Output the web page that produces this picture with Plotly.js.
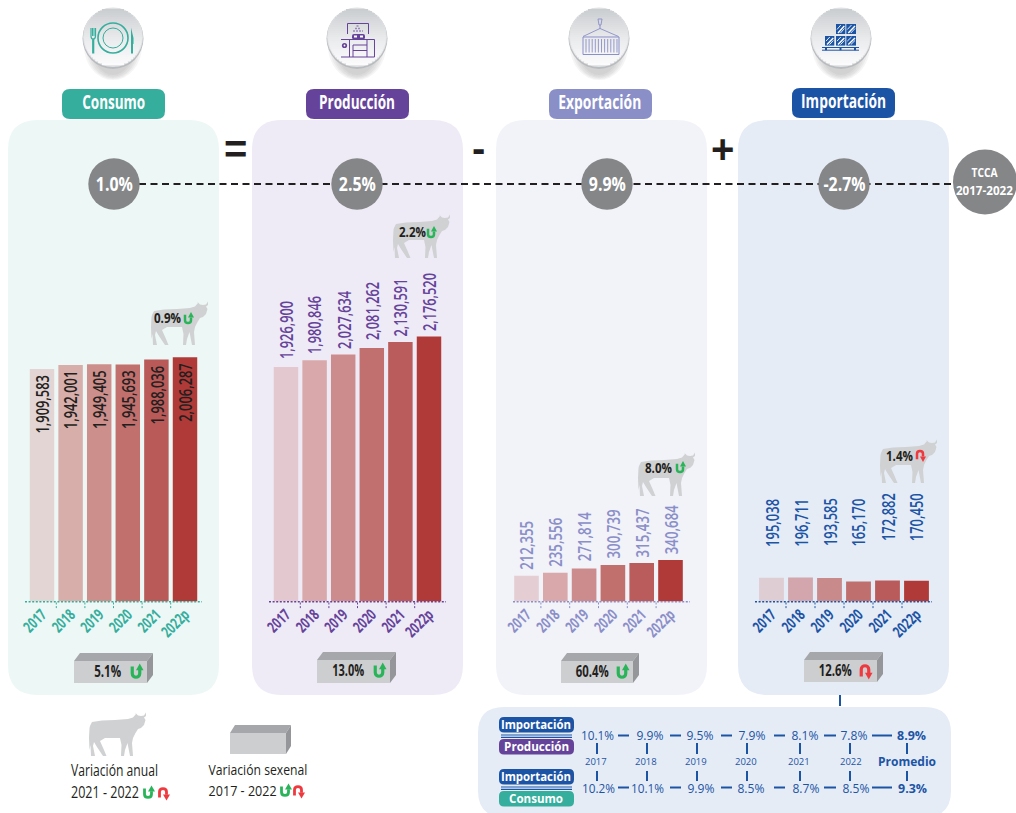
<!DOCTYPE html>
<html><head><meta charset="utf-8">
<script src="https://cdn.plot.ly/plotly-3.0.1.min.js"></script>
<style>html,body{margin:0;padding:0;background:#fff}#c{width:1016px;height:813px}</style>
</head><body><div id="c"></div>
<script>
// ---------- data ----------
const years = ['2017','2018','2019','2020','2021','2022p'];
const consumo = [1909583,1942001,1949405,1945693,1988036,2006287];
const produccion = [1926900,1980846,2027634,2081262,2130591,2176520];
const exportacion = [212355,235556,271814,300739,315437,340684];
const importacion = [195038,196711,193585,165170,172882,170450];
const barsConsumo = ['#e3d5d3','#d7aeaa','#cd8f8b','#c2706d','#ba5a58','#b03a37'];
const barsProduccion = ['#e4c8cf','#d8a8aa','#cc8b8c','#c2706f','#ba5c5b','#b03a37'];
const barsExportacion = ['#e5ced3','#d8a8ab','#cc8b8c','#c2706d','#ba5c5b','#b03a37'];
const barsImportacion = ['#decdd3','#d2a6ac','#c88a8b','#bf6f6d','#b95b5b','#b03a37'];
const tcca = ['1.0%','2.5%','9.9%','-2.7%'];
const anual = ['0.9%','2.2%','8.0%','1.4%'];
const sexenal = ['5.1%','13.0%','60.4%','12.6%'];
const ratioYears = ['2017','2018','2019','2020','2021','2022','Promedio'];
const impProd = ['10.1%','9.9%','9.5%','7.9%','8.1%','7.8%','8.9%'];
const impCons = ['10.2%','10.1%','9.9%','8.5%','8.7%','8.5%','9.3%'];
// ---------- style ----------
const W=1016,H=813,BASE=601.5,PERPX=8213;
const TEAL='#35ae9d',PURP='#66439a',LILA='#8a8fc8',BLUE='#1c54a5',GREY='#858688',GREEN='#2ab45a',RED='#ee3a3f',COW='#d0d1d2',DARK='#231f20';
const NARROW='"Open Sans","Noto Sans",sans-serif', HUM='"Open Sans","Noto Sans",sans-serif';
const fx=x=>(x/W).toFixed(6), fy=y=>(1-y/H).toFixed(6);
const pt=(x,y)=>fx(x)+' '+fy(y);
const shapes=[],anns=[],widths={};
const poly=(pts,fill,layer)=>shapes.push({type:'path',xref:'paper',yref:'paper',layer:layer||'above',path:'M '+pts.map(p=>pt(p[0],p[1])).join(' L ')+' Z',fillcolor:fill,line:{width:0}});
const stroke=(d,color,w,dash,layer)=>shapes.push({type:'path',xref:'paper',yref:'paper',layer:layer||'above',path:d,fillcolor:'rgba(0,0,0,0)',line:{color:color,width:w,dash:dash||'solid'}});
const seg=(x0,y0,x1,y1,color,w,dash)=>stroke('M '+pt(x0,y0)+' L '+pt(x1,y1),color,w,dash);
const ell=(cx,cy,rx,ry,fill,op,lc,lw)=>shapes.push({type:'circle',xref:'paper',yref:'paper',layer:'above',x0:fx(cx-rx),x1:fx(cx+rx),y0:fy(cy-ry),y1:fy(cy+ry),fillcolor:fill,opacity:op==null?1:op,line:{width:lw||0,color:lc||fill}});
const rr=(x0,y0,x1,y1,r,fill,layer)=>shapes.push({type:'path',xref:'paper',yref:'paper',layer:layer||'above',
 path:`M ${pt(x0+r,y0)} L ${pt(x1-r,y0)} Q ${pt(x1,y0)} ${pt(x1,y0+r)} L ${pt(x1,y1-r)} Q ${pt(x1,y1)} ${pt(x1-r,y1)} L ${pt(x0+r,y1)} Q ${pt(x0,y1)} ${pt(x0,y1-r)} L ${pt(x0,y0+r)} Q ${pt(x0,y0)} ${pt(x0+r,y0)} Z`,fillcolor:fill,line:{width:0}});
const T=(x,y,text,size,color,o)=>{o=o||{};anns.push({xref:'paper',yref:'paper',x:+fx(x),y:+fy(y),text:text,showarrow:false,xanchor:'center',yanchor:'middle',borderpad:0,align:'center',
 font:{family:o.family||NARROW,size:size,color:color,weight:o.bold?700:(o.weight||400)}});
 if(o.w) widths[anns.length-1]=o.w;};
// U-turn arrows
function uturn(x,y,w,h,up,lw){
 const l=x-w/2,r=x+w/2,s=up?1:-1,c=up?GREEN:RED;
 const t=y-s*h/2+s*h*0.08,b=y+s*h/2;
 stroke(`M ${pt(l,t)} L ${pt(l,y+s*h*0.12)} C ${pt(l,b)} ${pt(r,b)} ${pt(r,y+s*h*0.12)} L ${pt(r,y-s*h*0.15)}`,c,lw);
 poly([[r,y-s*h/2-s*2],[r-w*0.5,y-s*h*0.14],[r+w*0.5,y-s*h*0.14]],c);
}
// cow silhouette, outline given in the legend cow's pixels
const cowPts=[[90,726],[92,722],[102,720.5],[115,720],[128,719],[133,717.5],[136,714],[135,712.5],[138,715.5],[141,716],[144,715.5],[146,712.5],[146,716],[144,717.5],[145.5,720],[144,725],[141,728],[138,729],[135.5,733],[133,738],[132,743],[133,756],[130,756],[127.5,743],[125,750],[124,756],[121,756],[121.5,745],[120,738],[112,738],[105,738],[100,741],[104,750],[106.5,756],[103,756],[97,747],[94,742],[93,746],[95,756],[91,756],[90.5,745],[89.5,750],[89,738],[89.5,728]];
const cow=(dx,dy)=>poly(cowPts.map(p=>[p[0]+dx,p[1]+dy]),COW);
function block(x0,y0,x1,y1,d){
 poly([[x0,y0],[x0+d,y0-8],[x1+d,y0-8],[x1,y0]],'#a5a7aa');
 poly([[x1,y0],[x1+d,y0-8],[x1+d,y1-8],[x1,y1]],'#94969a');
 poly([[x0,y0],[x1,y0],[x1,y1],[x0,y1]],'#cdced0');
}
function mix(a,b,t){const p=s=>[1,3,5].map(i=>parseInt(s.substr(i,2),16));const A=p(a),B=p(b);return 'rgb('+A.map((v,i)=>Math.round(v+(B[i]-v)*t)).join(',')+')';}
function badge(cx,cy){
 [[46,34,29],[46,33,27],[46,32,25],[46,30.5,23],[46,29,21]].forEach(s=>ell(cx,s[0],s[2],s[1],'#6f7278',0.07));
 ell(cx,cy+0.4,30.5,30.5,'#b9bcbf');
 ell(cx,cy-0.8,30,29.8,'#dfe1e3');
 for(let y=-28;y<28;y+=2){
  const h=Math.sqrt(Math.max(0,29.3*29.3-(y+1)*(y+1)))-0.4;
  const t=(y+28)/56, col=t<0.5?mix('#cbced1','#e9eaec',t*2):mix('#e9eaec','#fcfcfd',(t-0.5)*2);
  poly([[cx-h,cy+y-1],[cx+h,cy+y-1],[cx+h,cy+y+1.2],[cx-h,cy+y+1.2]],col);
 }
}
// ---------- panels (below everything) ----------
rr(8,120,219,695,30,'#edf7f5','below');
rr(252,120,463,695,30,'#eeebf6','below');
rr(496,120,707,695,30,'#f2f2f9','below');
rr(738,120,949,695,30,'#e5ecf6','below');
rr(478,707,951,817,26,'#e5ecf6','below');
// ---------- headers ----------
[['Consumo',62,165,TEAL,89,63],['Producción',306,409,PURP,89,76],['Exportación',549,652,LILA,89,83],['Importación',792,895,BLUE,88,85]].forEach(h=>{
 rr(h[1],h[4],h[2],h[4]+30,8,h[3]);
 T((h[1]+h[2])/2,h[4]+13,h[0],20,'#fff',{bold:true,w:h[5]});
});
// ---------- icons ----------
badge(113,38);badge(357,38);badge(599,38);badge(841,38);
// plate
ell(113,38,15,15,'rgba(0,0,0,0)',1,TEAL,1.6);
ell(113,38,10,10,'rgba(0,0,0,0)',1,TEAL,1);
stroke(`M ${pt(91,28)} L ${pt(91,36)} Q ${pt(91,39)} ${pt(93,39)} Q ${pt(95.5,39)} ${pt(95.5,36)} L ${pt(95.5,28)}`,TEAL,1.2);
seg(92.5,28,92.5,36,TEAL,1);seg(94,28,94,36,TEAL,1);
seg(93.2,39,93.2,53.5,TEAL,2.2);
poly([[131,27.5],[133.5,38],[133.5,44],[133,44],[133,53.5],[131,53.5]],TEAL);
// production
const C=PURP;
stroke(`M ${pt(347.5,34)} L ${pt(347.5,23.5)} L ${pt(368.5,23.5)} L ${pt(368.5,34)}`,C,1);
seg(341,39.5,374.5,39.5,C,1.2);
seg(341,57,374.5,57,C,1.2);
seg(349.5,39.5,349.5,57,C,1);seg(374.5,39.5,374.5,57,C,1);seg(367,39.5,367,57,C,1);
seg(353,45,367,45,C,1);seg(353,50.5,367,50.5,C,1);seg(353,45,353,57,C,1);
ell(344.5,45.5,2.6,2.6,C);
ell(344.5,45.5,0.9,0.9,'#ffffff');
[[358,26,1.5],[358,28.5,3],[358,31,5]].forEach(a=>seg(a[0]-a[2],a[1],a[0]+a[2],a[1],'#9a85bf',1.4,'2px,1px'));
rr(352,34,365,39.5,2,C);
poly([[354,35.5],[357,35.5],[357,37.5],[354,37.5]],'#fff');poly([[360,35.5],[363,35.5],[363,37.5],[360,37.5]],'#fff');
// container
const L=LILA;
stroke(`M ${pt(598,19)} L ${pt(602,19)} L ${pt(601,25)} L ${pt(599,25)} Z`,L,0.9);
seg(600,25,600,29,L,1);
stroke(`M ${pt(583,36.5)} L ${pt(600,28.5)} L ${pt(618.5,36.5)}`,L,0.9);
stroke(`M ${pt(583,37)} L ${pt(619,37)} L ${pt(619,54.5)} L ${pt(583,54.5)} Z`,L,1);
for(let x=586;x<618;x+=3.1) seg(x,39,x,52.5,L,0.9);
// pallet
[[836,24,9.3,10],[846.3,24,9.7,10],[825,36,9.3,9.6],[836,36,9.3,9.6],[846.3,36,9.7,9.6]].forEach(b=>{
 poly([[b[0],b[1]],[b[0]+b[2],b[1]],[b[0]+b[2],b[1]+b[3]],[b[0],b[1]+b[3]]],BLUE);
 seg(b[0]+2,b[1]+b[3]-1,b[0]+b[2]-1,b[1]+2,'#fff',1.4);
 seg(b[0]+1,b[1]+b[3]-4.5,b[0]+b[2]-4.5,b[1]+1,'#fff',0.9);
 seg(b[0]+4.5,b[1]+b[3]-1,b[0]+b[2]-1,b[1]+4.5,'#fff',0.9);
});
seg(822,47.5,859,47.5,BLUE,1);seg(822,50.2,859,50.2,BLUE,1);
[826,840.5,855].forEach(x=>seg(x,47.5,x,50.2,BLUE,2));
// ---------- operators ----------
T(235.5,149,'=',40,DARK,{bold:true,family:'"Liberation Sans",sans-serif'});
T(478.5,148,'-',40,DARK,{bold:true,family:'"Liberation Sans",sans-serif'});
T(722,149,'+',40,DARK,{bold:true,family:'"Liberation Sans",sans-serif'});
// ---------- TCCA line ----------
seg(139,184,956,184,DARK,2,'7px,4.5px');
[114,357,607,844].forEach((x,i)=>{ell(x,184,25.7,25.7,GREY);T(x,183.5,tcca[i],20,'#fff',{bold:true,w:i===3?42:37});});
ell(985,182,32,32.5,GREY);
T(985,172.5,'TCCA',13,'#fff',{bold:true,w:26});T(985,191,'2017-2022',12,'#fff',{bold:true,w:57});
// ---------- cows ----------
[[62,-411,168,317,188,319,true],[304,-498,412,231,431,233,true],[549,-260,658,467,680,468,true],[791,-273,899,455,920,455,false]].forEach((c,i)=>{
 cow(c[0],c[1]);
 T(c[2],c[3],anual[i],15,DARK,{bold:true,w:27});
 uturn(c[4],c[5],6,10,c[6],2.5);
});
// ---------- blocks ----------
[[74,147,108,136,661,683,true,27],[317,390,348,379,660,683,true,32],[561,633,592,622,661,683,true,33],[804,877,835,865,660,682,false,33]].forEach((b,i)=>{
 block(b[0],b[4],b[1],b[5],6);
 T(b[2],b[4]+10.5,sexenal[i],16,DARK,{bold:true,w:b[7]});
 uturn(b[3],b[4]+11,7.5,13,b[6],3.2);
});
// ---------- legend ----------
cow(0,0);
block(230,733,286,754,5);
T(114.5,770.5,'Variación anual',15.5,DARK,{w:87});
T(105,792,'2021 - 2022',15.5,DARK,{w:68});
T(257.5,769,'Variación sexenal',15,DARK,{w:99});
T(242,790,'2017 - 2022',15,DARK,{w:68});
uturn(148,793,7,11,true,2.8);uturn(163,793,7,11,false,2.8);
uturn(285,791,7,11,true,2.8);uturn(298,791,7,11,false,2.8);
// ---------- bottom table ----------
seg(840,695,840,706,BLUE,2);
[[499,574,717,'Importación',BLUE,70],[499,574,739,'Producción',PURP,65],[499,574,769,'Importación',BLUE,70],[499,574,791,'Consumo',TEAL,54]].forEach(p=>{
 rr(p[0],p[2],p[1],p[2]+15.5,5,p[4]);T((p[0]+p[1])/2,p[2]+7.5,p[3],12,'#fff',{bold:true,family:HUM,w:p[5]});
});
seg(501,735,572,735,BLUE,1.2);seg(501,737.3,572,737.3,BLUE,1.2);
seg(501,787,572,787,BLUE,1.2);seg(501,789.3,572,789.3,BLUE,1.2);
const xRow1=[597.7,650,700,752,805,854,911],xRow2=[598,648,701,751,806,856,912],xYear=[596,646,696,746,799,851,907],xV=[597,647,697,747,800,850,907];
const dash=[[618,629],[670,681],[721,732],[774,785],[824,836],[872,892]];
impProd.forEach((v,i)=>T(xRow1[i],736,v,12.5,BLUE,{family:HUM,bold:i===6,w:i===0?33:(i===6?29:27)}));
impCons.forEach((v,i)=>T(xRow2[i],788,v,12.5,BLUE,{family:HUM,bold:i===6,w:i<2?33:(i===6?29:27)}));
ratioYears.forEach((v,i)=>T(xYear[i],762,v,i===6?12:9.5,BLUE,{family:HUM,bold:i===6}));
dash.forEach(d=>{seg(d[0],735.5,d[1],735.5,BLUE,2);seg(d[0],787.5,d[1],787.5,BLUE,2);});
xV.forEach(x=>{seg(x,743,x,754,BLUE,2);seg(x,771,x,781,BLUE,2);});
// ---------- charts ----------
const panels=[
 {ax:'x',vals:consumo,bars:barsConsumo,col:TEAL,txt:DARK,x0:27.7,x1:199.3,bl:[25,202],inside:true,len:58.5},
 {ax:'x2',vals:produccion,bars:barsProduccion,col:PURP,txt:PURP,x0:271.7,x1:443.3,bl:[269,446],gaps:[8,6,6,8,6,5.5],len:58},
 {ax:'x3',vals:exportacion,bars:barsExportacion,col:LILA,txt:LILA,x0:512.1,x1:684.9,bl:[513,690],gaps:[6,6,7,7,6,6],len:49},
 {ax:'x4',vals:importacion,bars:barsImportacion,col:BLUE,txt:BLUE,x0:757,x1:931,bl:[755,932],gaps:[31,31,32,35,39.5,39.7],len:48}
];
const data=[];
const layout={width:W,height:H,margin:{l:0,r:0,t:0,b:0,pad:0},paper_bgcolor:'#fff',plot_bgcolor:'rgba(0,0,0,0)',showlegend:false,hovermode:false,bargap:0.145,
 yaxis:{domain:[(H-BASE)/H,1],range:[0,BASE*PERPX],visible:false,fixedrange:true},shapes:shapes,annotations:anns};
panels.forEach(p=>{
 data.push({type:'bar',x:years,y:p.vals,xaxis:p.ax,yaxis:'y',marker:{color:p.bars,line:{width:0}},hoverinfo:'skip',cliponaxis:false});
 const key='xaxis'+p.ax.slice(1);
 layout[key]={domain:[p.x0/W,p.x1/W],type:'category',categoryorder:'array',categoryarray:years,anchor:'y',fixedrange:true,range:[-0.5,5.5],
  showline:false,showgrid:false,zeroline:false,ticks:'',tickangle:-45,automargin:false,
  tickfont:{family:NARROW,size:15.5,color:p.col,weight:700}};
 seg(p.bl[0],BASE+0.3,p.bl[1],BASE+0.3,p.col,1.6,'2px,1.6px');
 [0.5,1.5,2.5,3.5,4.5].forEach(b=>shapes.push({type:'line',xref:p.ax,yref:'paper',x0:b,x1:b,y0:+fy(BASE+1),y1:+fy(BASE+7),layer:'above',line:{color:p.col,width:1,dash:'2px,1.6px'}}));
 p.vals.forEach((v,i)=>{
  anns.push({xref:p.ax,yref:'y',x:i,y:v,text:v.toLocaleString('en-US'),textangle:-90,showarrow:false,xanchor:'center',
   yanchor:'middle',yshift:p.inside?-(6+p.len/2):(p.gaps[i]+p.len/2),borderpad:0,
   font:{family:NARROW,size:18,color:p.txt,weight:600}});
  widths[anns.length-1]=p.len;
 });
});
Plotly.newPlot('c',data,layout,{displayModeBar:false,staticPlot:true}).then(()=>{
 // condensed lettering: no narrow face is installed, so fit the real text to the measured width
 const fit=(t,w)=>{t.setAttribute('textLength',w);t.setAttribute('lengthAdjust','spacingAndGlyphs');};
 document.querySelectorAll('.annotation').forEach(g=>{
  const w=widths[g.getAttribute('data-index')];
  if(w){const t=g.querySelector('text');if(t)fit(t,w);}
 });
 document.querySelectorAll('.xaxislayer-above text').forEach(t=>fit(t,t.textContent==='2022p'?32:25));
});
</script></body></html>
